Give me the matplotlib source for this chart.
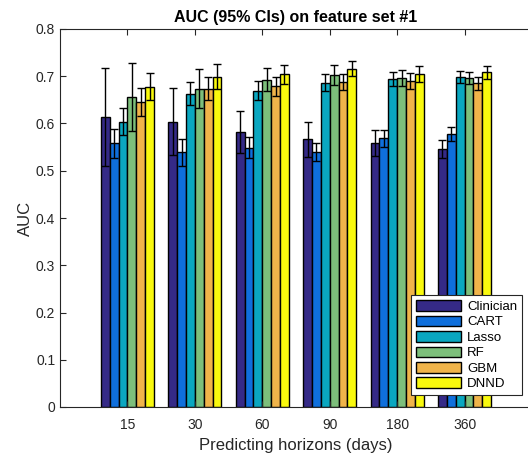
import matplotlib
matplotlib.use("Agg")
import matplotlib.pyplot as plt
import numpy as np

plt.rcParams['font.family'] = ['Liberation Sans', 'DejaVu Sans']

horizons = ['15', '30', '60', '90', '180', '360']
models = ['Clinician', 'CART', 'Lasso', 'RF', 'GBM', 'DNND']
colors = ['#352a87', '#0f6fdc', '#0aa7c0', '#7dbf7b', '#f0b44a', '#f9f90e']

# mean AUC per model, one entry per horizon
clinician = [0.614, 0.604, 0.582, 0.567, 0.559, 0.546]
cart = [0.558, 0.539, 0.549, 0.540, 0.569, 0.577]
lasso = [0.604, 0.663, 0.669, 0.686, 0.695, 0.699]
rf = [0.656, 0.674, 0.693, 0.702, 0.697, 0.697]
gbm = [0.646, 0.674, 0.679, 0.688, 0.690, 0.685]
dnnd = [0.678, 0.699, 0.704, 0.716, 0.705, 0.708]

# half width of the 95% CI
clinician_ci = [0.103, 0.071, 0.045, 0.037, 0.027, 0.020]
cart_ci = [0.031, 0.028, 0.022, 0.019, 0.018, 0.015]
lasso_ci = [0.028, 0.024, 0.020, 0.018, 0.015, 0.013]
rf_ci = [0.072, 0.041, 0.025, 0.021, 0.017, 0.013]
gbm_ci = [0.030, 0.024, 0.020, 0.017, 0.016, 0.014]
dnnd_ci = [0.029, 0.026, 0.020, 0.016, 0.017, 0.014]

means = [clinician, cart, lasso, rf, gbm, dnnd]
cis = [clinician_ci, cart_ci, lasso_ci, rf_ci, gbm_ci, dnnd_ci]

fig = plt.figure(figsize=(5.28, 4.55), dpi=100)
ax = fig.add_axes([60 / 528, 48 / 455, 472 / 528, 378 / 455])

x = np.arange(1, len(horizons) + 1)
w = 0.79 / len(models)
for i, (m, c, col, name) in enumerate(zip(means, cis, colors, models)):
    pos = x + (i - 2.5) * w
    ax.bar(pos, m, width=w, color=col, edgecolor='black', linewidth=1.0, label=name)
    ax.errorbar(pos, m, yerr=c, fmt='none', ecolor='black', elinewidth=1.0,
                capsize=3.2, capthick=1.0)

ax.set_xlim(0, 7)
ax.set_ylim(0, 0.8)
ax.set_xticks(x)
ax.set_xticklabels(horizons)
ax.set_yticks(np.arange(0, 0.81, 0.1))
ax.set_yticklabels(['0', '0.1', '0.2', '0.3', '0.4', '0.5', '0.6', '0.7', '0.8'])
ax.tick_params(direction='in', top=True, length=4, labelsize=10, colors='#262626')
ax.tick_params(axis='x', pad=8)
for s in ax.spines.values():
    s.set_color('#262626')
    s.set_linewidth(0.8)
ax.spines['right'].set_visible(False)

ax.set_xlabel('Predicting horizons (days)', fontsize=12, color='#262626')
ax.set_ylabel('AUC', fontsize=12, color='#262626', labelpad=2)
ax.set_title('AUC (95% CIs) on feature set #1', fontsize=11.5, fontweight='bold', pad=5)

leg = ax.legend(loc='lower right', bbox_to_anchor=(0.979, 0.032), fontsize=9.5,
                fancybox=False, edgecolor='#262626', framealpha=1,
                borderaxespad=0, handlelength=3.4, handleheight=0.85,
                handletextpad=0.5, labelspacing=0.2, borderpad=0.35)
leg.get_frame().set_linewidth(0.8)

fig.savefig('out.png', dpi=100)
